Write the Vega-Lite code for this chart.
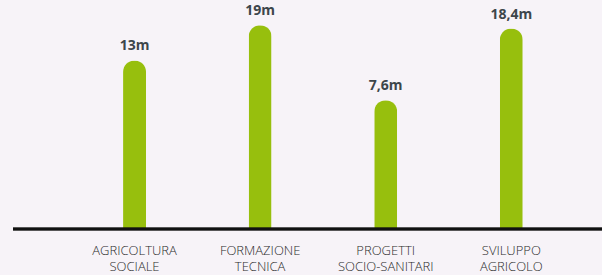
{
  "$schema": "https://vega.github.io/schema/vega-lite/v6.json",
  "width": 589,
  "height": 209,
  "autosize": {"type": "none"},
  "padding": {"left": 13, "right": 0, "top": 20, "bottom": 46},
  "background": "#f7f3f8",
  "config": {"view": {"stroke": null}, "font": "Open Sans"},
  "data": {
    "values": [
      {"categoria": "AGRICOLTURA SOCIALE", "valore": 13, "etichetta": "13m"},
      {"categoria": "FORMAZIONE TECNICA", "valore": 19, "etichetta": "19m"},
      {"categoria": "PROGETTI SOCIO-SANITARI", "valore": 7.6, "etichetta": "7,6m"},
      {"categoria": "SVILUPPO AGRICOLO", "valore": 18.4, "etichetta": "18,4m"}
    ]
  },
  "encoding": {
    "x": {
      "field": "categoria", "type": "nominal", "sort": null,
      "scale": {"paddingInner": 0, "paddingOuter": 0.345, "align": 0.678},
      "axis": {
        "title": null, "domain": false, "ticks": false, "labelAngle": 0,
        "labelFont": "Open Sans", "labelFontSize": 13, "labelFontWeight": 300,
        "labelColor": "#2b2b2b", "labelPadding": 15, "labelLineHeight": 16,
        "labelExpr": "split(datum.label, ' ')"
      }
    }
  },
  "layer": [
    {
      "mark": {"type": "bar", "size": 23, "cornerRadiusTopLeft": 11.5, "cornerRadiusTopRight": 11.5, "color": "#97bf0d"},
      "encoding": {
        "y": {"field": "valore", "type": "quantitative", "scale": {"type": "sqrt", "domain": [0, 20]}, "axis": null}
      }
    },
    {
      "mark": {"type": "text", "dy": -10, "baseline": "alphabetic", "fontWeight": "bold", "fontSize": 14, "color": "#3d464b", "font": "Open Sans"},
      "encoding": {
        "y": {"field": "valore", "type": "quantitative"},
        "text": {"field": "etichetta"}
      }
    },
    {
      "mark": {"type": "rule", "strokeWidth": 2.5, "color": "#111111"},
      "encoding": {"x": null, "y": {"datum": 0}}
    }
  ]
}
